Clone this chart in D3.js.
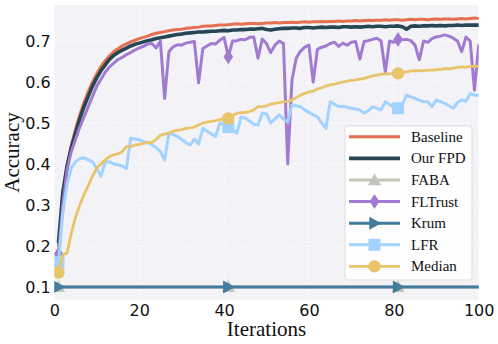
<!DOCTYPE html>
<html>
<head>
<meta charset="utf-8">
<script src="https://cdn.jsdelivr.net/npm/d3@7"></script>
<style>
  body { margin: 0; background: white; }
</style>
</head>
<body>
<div id="chart"></div>
<script>
const iterations = d3.range(1, 101);

const baseline = [
  0.2, 0.32, 0.39, 0.445, 0.485, 0.52, 0.55, 0.577, 0.6, 0.62,
  0.638, 0.652, 0.664, 0.674, 0.681, 0.688, 0.693, 0.698, 0.702, 0.706,
  0.709, 0.712, 0.716, 0.719, 0.721, 0.723, 0.725, 0.727, 0.728, 0.729,
  0.731, 0.732, 0.733, 0.734, 0.736, 0.737, 0.737, 0.738, 0.739, 0.739,
  0.74, 0.741, 0.742, 0.741, 0.742, 0.743, 0.743, 0.742, 0.743, 0.744,
  0.744, 0.745, 0.744, 0.745, 0.745, 0.746, 0.745, 0.746, 0.747, 0.746,
  0.747, 0.747, 0.748, 0.747, 0.748, 0.748, 0.749, 0.748, 0.749, 0.749,
  0.75, 0.749, 0.75, 0.751, 0.75, 0.751, 0.751, 0.752, 0.751, 0.752,
  0.752, 0.751, 0.752, 0.753, 0.752, 0.753, 0.753, 0.752, 0.753, 0.754,
  0.753, 0.754, 0.754, 0.753, 0.754, 0.755, 0.754, 0.755, 0.756, 0.755
];

const ourFPD = [
  0.21, 0.33, 0.395, 0.44, 0.475, 0.51, 0.54, 0.565, 0.59, 0.61,
  0.628, 0.642, 0.655, 0.665, 0.672, 0.678, 0.683, 0.688, 0.692, 0.695,
  0.698, 0.701, 0.703, 0.706, 0.708, 0.71, 0.712, 0.714, 0.716, 0.717,
  0.719, 0.72, 0.721, 0.722, 0.722, 0.723, 0.724, 0.724, 0.725, 0.726,
  0.725, 0.727, 0.727, 0.728, 0.728, 0.729, 0.729, 0.73, 0.731, 0.728,
  0.727, 0.729, 0.73, 0.731, 0.731, 0.732, 0.732, 0.731, 0.733, 0.733,
  0.732, 0.733, 0.734, 0.733, 0.734, 0.734, 0.733, 0.735, 0.735, 0.734,
  0.735, 0.734, 0.735, 0.736, 0.735, 0.736, 0.736, 0.735, 0.736, 0.736,
  0.737, 0.735, 0.729, 0.736, 0.737, 0.736, 0.737, 0.737, 0.738, 0.737,
  0.738, 0.737, 0.738, 0.738, 0.739, 0.738, 0.739, 0.739, 0.739, 0.739
];

// FABA and Krum sit flat on 0.1 for the whole run
const faba = Array(100).fill(0.1);
const krum = Array(100).fill(0.1);

const flTrust = [
  0.18, 0.3, 0.385, 0.43, 0.46, 0.49, 0.515, 0.54, 0.565, 0.59,
  0.607, 0.624, 0.637, 0.646, 0.655, 0.66, 0.667, 0.672, 0.678, 0.683,
  0.687, 0.693, 0.694, 0.683, 0.7, 0.56, 0.674, 0.686, 0.691, 0.69,
  0.695, 0.697, 0.699, 0.598, 0.682, 0.688, 0.694, 0.693, 0.702, 0.709,
  0.662, 0.7, 0.701, 0.704, 0.703, 0.709, 0.71, 0.658, 0.705, 0.694,
  0.672, 0.69, 0.7, 0.694, 0.4, 0.605, 0.658, 0.675, 0.685, 0.69,
  0.6, 0.68, 0.685, 0.688, 0.694, 0.697, 0.687, 0.695, 0.69, 0.697,
  0.699, 0.656, 0.699, 0.701, 0.704, 0.707, 0.7, 0.625, 0.7, 0.697,
  0.704, 0.703, 0.704, 0.701, 0.69, 0.654, 0.7, 0.697, 0.706, 0.71,
  0.712, 0.715, 0.712, 0.707, 0.7, 0.674, 0.71, 0.7, 0.58, 0.69
];

const lfr = [
  0.16, 0.28, 0.35, 0.39, 0.405, 0.413, 0.415, 0.41, 0.405, 0.39,
  0.37, 0.405, 0.405, 0.4, 0.398, 0.395, 0.389, 0.463, 0.461, 0.459,
  0.455, 0.452, 0.447, 0.44, 0.43, 0.41, 0.475, 0.472, 0.467, 0.46,
  0.452, 0.446, 0.46, 0.449, 0.487, 0.48, 0.473, 0.467, 0.5, 0.497,
  0.49, 0.485, 0.475, 0.514, 0.512, 0.505, 0.497, 0.495, 0.524, 0.522,
  0.5, 0.51, 0.52, 0.51, 0.503, 0.544, 0.542, 0.54, 0.532, 0.526,
  0.52, 0.515, 0.5, 0.487, 0.552, 0.546, 0.54, 0.541, 0.538, 0.536,
  0.534, 0.532, 0.524, 0.53, 0.54, 0.536, 0.532, 0.552, 0.545, 0.538,
  0.536, 0.545, 0.568, 0.564, 0.56, 0.556, 0.552, 0.552, 0.54, 0.556,
  0.552, 0.548, 0.542, 0.536, 0.55, 0.556, 0.553, 0.572, 0.568, 0.568
];

const median = [
  0.135, 0.178, 0.183, 0.23, 0.27, 0.3, 0.325, 0.347, 0.37, 0.39,
  0.4, 0.41, 0.418, 0.422, 0.425, 0.43, 0.442, 0.443, 0.446, 0.448,
  0.45, 0.452, 0.452, 0.46, 0.47, 0.473, 0.476, 0.48, 0.482, 0.484,
  0.487, 0.488, 0.49, 0.495, 0.5, 0.502, 0.504, 0.506, 0.508, 0.51,
  0.511, 0.518, 0.524, 0.525, 0.526, 0.528, 0.532, 0.54, 0.54, 0.542,
  0.546, 0.548, 0.55, 0.552, 0.553, 0.556, 0.562, 0.568, 0.572, 0.576,
  0.578, 0.583, 0.586, 0.59, 0.593, 0.595, 0.598, 0.6, 0.602, 0.604,
  0.605, 0.607, 0.609, 0.612, 0.615, 0.617, 0.619, 0.62, 0.62, 0.621,
  0.621, 0.623, 0.625, 0.627, 0.628, 0.627, 0.628, 0.629, 0.629, 0.63,
  0.631, 0.633, 0.632, 0.634, 0.636, 0.637, 0.636, 0.638, 0.639, 0.639
];

const xTicks = [0, 20, 40, 60, 80, 100];
const yTicks = [0.1, 0.2, 0.3, 0.4, 0.5, 0.6, 0.7];
const markerEvery = [0, 40, 80];

const series = [
  { name: 'Baseline', values: baseline, color: '#e76f51', width: 3, marker: null },
  { name: 'Our FPD', values: ourFPD, color: '#264653', width: 3.6, marker: null },
  { name: 'FABA', values: faba, color: '#c3c5b9', width: 3, marker: 'triUp' },
  { name: 'FLTrust', values: flTrust, color: '#a07bd1', width: 3, marker: 'diamond' },
  { name: 'Krum', values: krum, color: '#457b9d', width: 3, marker: 'triRight' },
  { name: 'LFR', values: lfr, color: '#a2d2ff', width: 3, marker: 'square' },
  { name: 'Median', values: median, color: '#e9c46a', width: 2.8, marker: 'circle' }
];

const svgWidth = 498;
const svgHeight = 344;
const plot = { left: 54.3, right: 478.7, top: 5, bottom: 300 };

const svg = d3.select('#chart')
  .append('svg')
  .attr('width', svgWidth)
  .attr('height', svgHeight)
  .style('display', 'block');

const xScale = d3.scaleLinear()
  .domain([0, 100])
  .range([plot.left, plot.right]);

const yScale = d3.scaleLinear()
  .domain([0.068, 0.788])
  .range([plot.bottom, plot.top]);

svg.append('defs')
  .append('clipPath')
  .attr('id', 'plot-clip')
  .append('rect')
  .attr('x', plot.left)
  .attr('y', plot.top)
  .attr('width', plot.right - plot.left)
  .attr('height', plot.bottom - plot.top);

svg.append('rect')
  .attr('x', plot.left)
  .attr('y', plot.top)
  .attr('width', plot.right - plot.left)
  .attr('height', plot.bottom - plot.top)
  .attr('fill', '#f3f3f7');

// dotted white grid
svg.append('g')
  .selectAll('line')
  .data(xTicks)
  .enter()
  .append('line')
  .attr('x1', d => xScale(d))
  .attr('x2', d => xScale(d))
  .attr('y1', plot.top)
  .attr('y2', plot.bottom)
  .attr('stroke', 'white')
  .attr('stroke-width', 1.3)
  .attr('stroke-dasharray', '1.5,2.2');

svg.append('g')
  .selectAll('line')
  .data(yTicks)
  .enter()
  .append('line')
  .attr('x1', plot.left)
  .attr('x2', plot.right)
  .attr('y1', d => yScale(d))
  .attr('y2', d => yScale(d))
  .attr('stroke', 'white')
  .attr('stroke-width', 1.3)
  .attr('stroke-dasharray', '1.5,2.2');

function markerPath(type) {
  if (type === 'triUp') return 'M0,-6.8L6.5,5.2L-6.5,5.2Z';
  if (type === 'triRight') return 'M6.8,0L-5.2,-6.5L-5.2,6.5Z';
  if (type === 'diamond') return 'M0,-7.5L4.8,0L0,7.5L-4.8,0Z';
  if (type === 'square') return 'M-6,-6L6,-6L6,6L-6,6Z';
  return d3.symbol().type(d3.symbolCircle).size(Math.PI * 6.2 * 6.2)();
}

const line = d3.line()
  .x((d, i) => xScale(iterations[i]))
  .y(d => yScale(d));

const lines = svg.append('g').attr('clip-path', 'url(#plot-clip)');

series.forEach(s => {
  lines.append('path')
    .datum(s.values)
    .attr('d', line)
    .attr('fill', 'none')
    .attr('stroke', s.color)
    .attr('stroke-width', s.width)
    .attr('stroke-linejoin', 'round')
    .attr('stroke-linecap', 'round');

  if (s.marker) {
    lines.selectAll(null)
      .data(markerEvery)
      .enter()
      .append('path')
      .attr('d', markerPath(s.marker))
      .attr('transform', i => `translate(${xScale(iterations[i])},${yScale(s.values[i])})`)
      .attr('fill', s.color);
  }
});

const xAxis = d3.axisBottom(xScale)
  .tickValues(xTicks)
  .tickSize(0)
  .tickPadding(4.5)
  .tickFormat(d3.format('d'));

svg.append('g')
  .attr('transform', `translate(0, ${plot.bottom})`)
  .call(xAxis)
  .call(g => g.select('.domain').remove())
  .selectAll('text')
  .style('font-family', 'DejaVu Sans')
  .style('font-size', '16px')
  .attr('fill', '#111');

const yAxis = d3.axisLeft(yScale)
  .tickValues(yTicks)
  .tickSize(0)
  .tickPadding(3.5)
  .tickFormat(d3.format('.1f'));

svg.append('g')
  .attr('transform', `translate(${plot.left}, 0)`)
  .call(yAxis)
  .call(g => g.select('.domain').remove())
  .selectAll('text')
  .style('font-family', 'DejaVu Sans')
  .style('font-size', '16px')
  .attr('fill', '#111');

svg.append('text')
  .attr('x', (plot.left + plot.right) / 2)
  .attr('y', 336)
  .attr('text-anchor', 'middle')
  .style('font-family', 'Liberation Serif')
  .style('font-size', '21px')
  .attr('fill', '#111')
  .text('Iterations');

svg.append('text')
  .attr('transform', `translate(18.5, ${(plot.top + plot.bottom) / 2}) rotate(-90)`)
  .attr('text-anchor', 'middle')
  .style('font-family', 'Liberation Serif')
  .style('font-size', '21px')
  .attr('fill', '#111')
  .text('Accuracy');

// legend
const legend = svg.append('g');

legend.append('rect')
  .attr('x', 345)
  .attr('y', 126)
  .attr('width', 127)
  .attr('height', 154)
  .attr('rx', 3)
  .attr('fill', 'white')
  .attr('fill-opacity', 0.85)
  .attr('stroke', '#dddddd')
  .attr('stroke-width', 1);

const legendRow = legend.selectAll('g.row')
  .data(series)
  .enter()
  .append('g')
  .attr('class', 'row')
  .attr('transform', (d, i) => `translate(0, ${136.8 + i * 21.6})`);

legendRow.append('line')
  .attr('x1', 349)
  .attr('x2', 400)
  .attr('stroke', d => d.color)
  .attr('stroke-width', d => d.width);

legendRow.filter(d => d.marker)
  .append('path')
  .attr('d', d => markerPath(d.marker))
  .attr('transform', 'translate(374.5, 0)')
  .attr('fill', d => d.color);

legendRow.append('text')
  .attr('x', 411)
  .attr('y', 5)
  .style('font-family', 'Liberation Serif')
  .style('font-size', '15px')
  .attr('fill', '#111')
  .text(d => d.name);
</script>
</body>
</html>
